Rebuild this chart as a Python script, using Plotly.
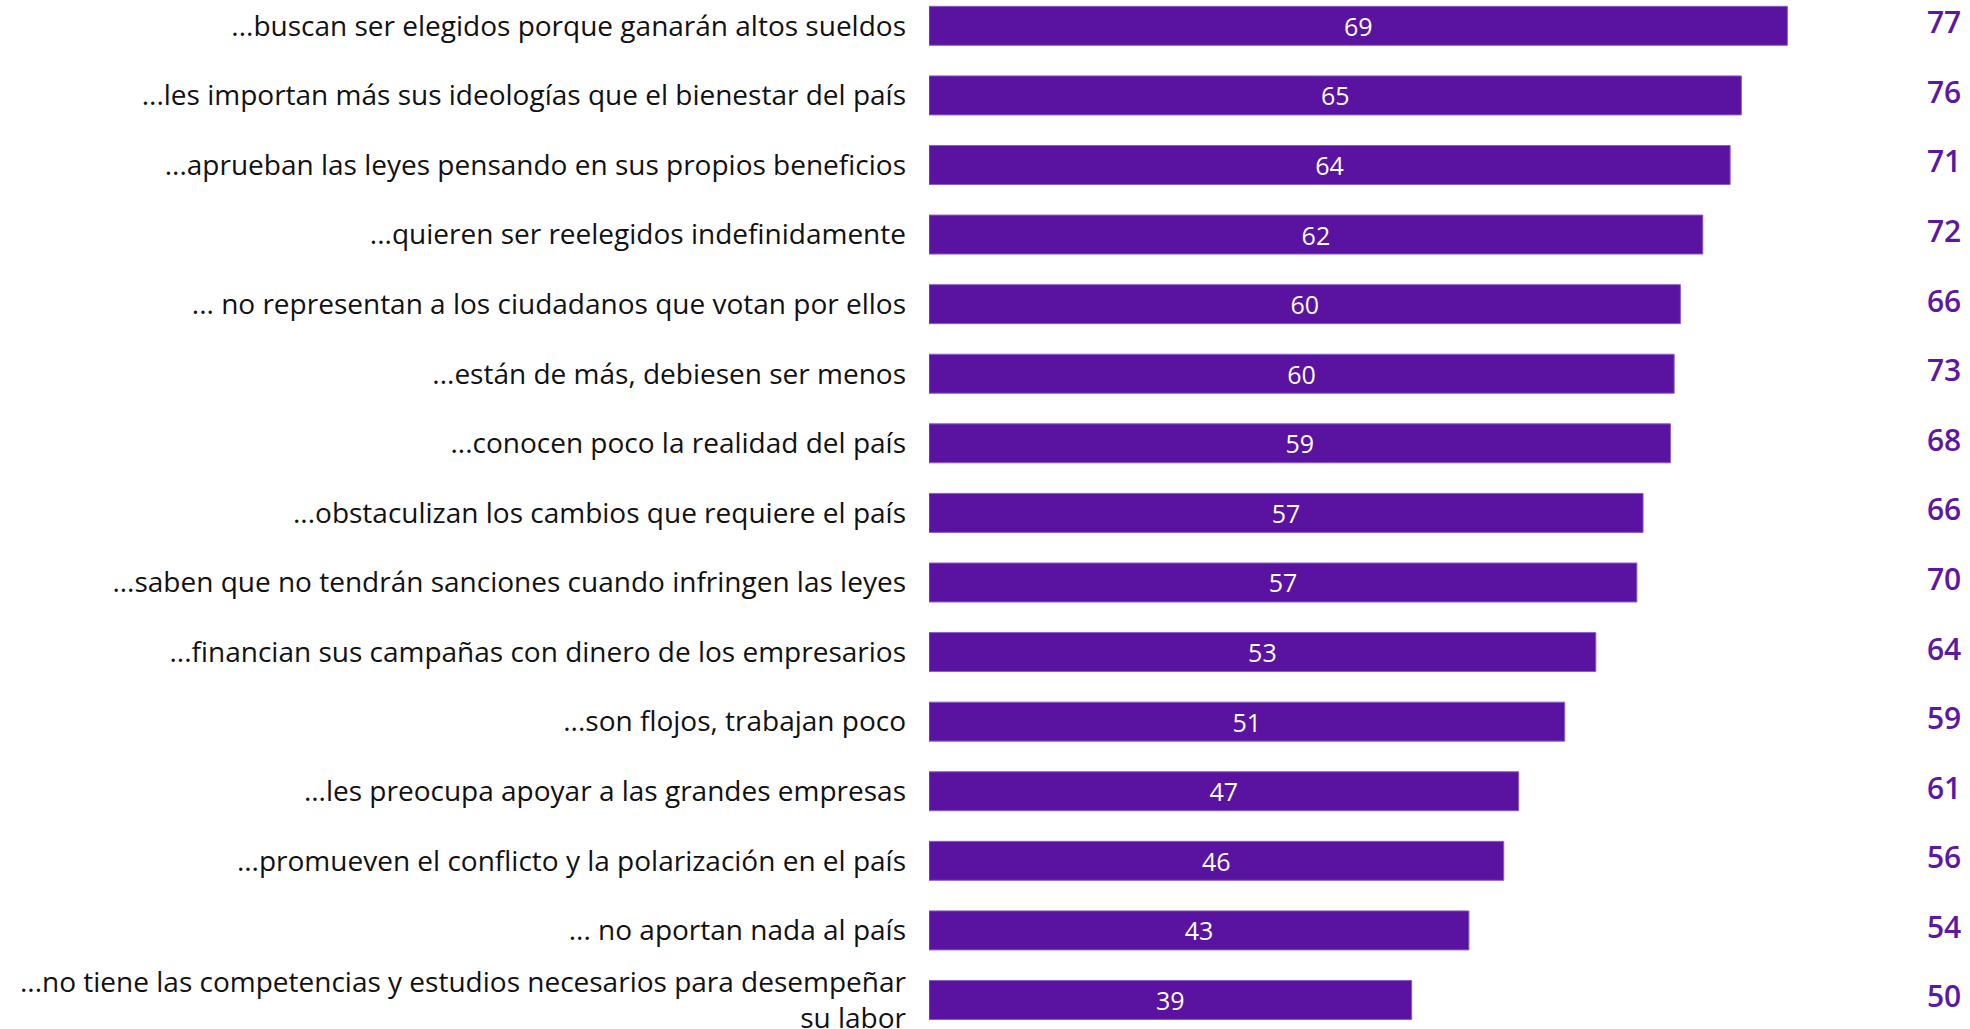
import plotly.graph_objects as go

categories = [
    "...buscan ser elegidos porque ganarán altos sueldos",
    "...les importan más sus ideologías que el bienestar del país",
    "...aprueban las leyes pensando en sus propios beneficios",
    "...quieren ser reelegidos indefinidamente",
    "... no representan a los ciudadanos que votan por ellos",
    "...están de más, debiesen ser menos",
    "...conocen poco la realidad del país",
    "...obstaculizan los cambios que requiere el país",
    "...saben que no tendrán sanciones cuando infringen las leyes",
    "...financian sus campañas con dinero de los empresarios",
    "...son flojos, trabajan poco",
    "...les preocupa apoyar a las grandes empresas",
    "...promueven el conflicto y la polarización en el país",
    "... no aportan nada al país",
    "...no tiene las competencias y estudios necesarios para desempeñar<br>su labor",
]
bar_values = [69.0, 65.3, 64.4, 62.2, 60.4, 59.9, 59.6, 57.4, 56.9, 53.6, 51.1, 47.4, 46.2, 43.4, 38.8]
bar_labels = [69, 65, 64, 62, 60, 60, 59, 57, 57, 53, 51, 47, 46, 43, 39]
side_values = [77, 76, 71, 72, 66, 73, 68, 66, 70, 64, 59, 61, 56, 54, 50]

PURPLE = "#5a12a0"
FONT = "Open Sans"

fig = go.Figure()
fig.add_trace(go.Bar(
    x=bar_values, y=categories, orientation="h",
    marker=dict(color=PURPLE, line=dict(color="#8a5cc8", width=1)),
    text=[str(v) for v in bar_labels], textposition="inside", insidetextanchor="middle",
    textangle=0, constraintext="none",
    textfont=dict(color="white", size=25, family=FONT),
    hoverinfo="skip",
))
fig.add_trace(go.Scatter(
    x=[81.6] * len(side_values), y=categories, mode="text",
    text=[str(v) for v in side_values],
    textfont=dict(color="#5c17a6", size=30, family=FONT, weight=600),
    textposition="middle center", hoverinfo="skip",
))

fig.update_layout(
    width=1970, height=1029,
    margin=dict(l=929, r=0, t=0, b=0, autoexpand=False),
    plot_bgcolor="white", paper_bgcolor="white",
    bargap=0.44, showlegend=False,
    font=dict(family=FONT, color="#111111"),
)
fig.update_xaxes(range=[0, 83.68], visible=False, fixedrange=True, automargin=False)
fig.update_yaxes(
    type="category", categoryorder="array", categoryarray=categories,
    range=[14.417, -0.371], showgrid=False, zeroline=False, showline=False,
    automargin=False,
    ticks="", ticklabelstandoff=22, tickfont=dict(size=28, color="#111111", family=FONT),
)

fig.write_html(
    "out.html",
    config={"displayModeBar": False},
    post_script="document.body.style.margin='0';document.body.style.overflow='hidden';",
)
